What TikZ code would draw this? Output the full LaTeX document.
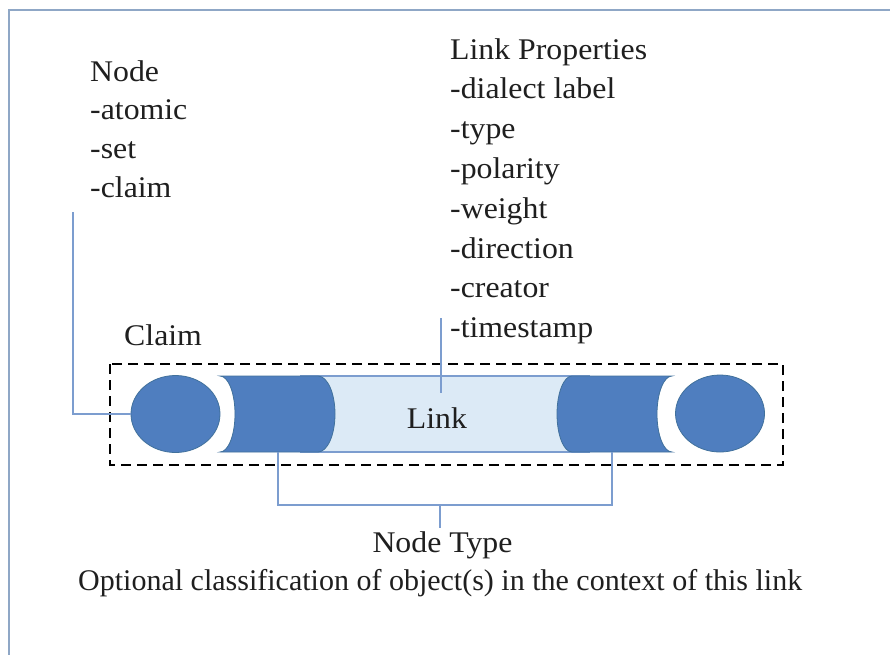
\documentclass[tikz,border=0pt]{standalone}
\usepackage{fontspec}
\usepackage{graphicx}
\setmainfont{Liberation Serif}
\usetikzlibrary{shapes.geometric}
\definecolor{darkb}{HTML}{4F7EBF}
\definecolor{darkedge}{HTML}{41719C}
\definecolor{lightb}{HTML}{DCEAF6}
\definecolor{conn}{HTML}{7C9DCF}
\definecolor{frame}{HTML}{8FA7C6}
\newcommand\widetxt[1]{\scalebox{1.06}[1]{#1}}
\begin{document}
\begin{tikzpicture}[x=1pt,y=-1pt,
  txt/.style={font=\fontsize{30}{36}\selectfont, inner sep=0pt, text=black!88},
  connector/.style={draw=conn, line width=1.3pt},
  blob/.style={ellipse, fill=darkb, draw=darkedge, line width=0.8pt, minimum width=89pt, minimum height=77pt, inner sep=0pt},
  tubedark/.style={fill=darkb, draw=darkedge, line width=0.8pt},
  tubelight/.style={fill=lightb},
  boxdash/.style={draw=black, line width=2.8pt, dash pattern=on 10pt off 6pt}]
\useasboundingbox (0,0) rectangle (890,654);
\clip (0,0) rectangle (890,654);
\fill[white] (0,0) rectangle (890,654);
% outer frame
\draw[frame, line width=1.6pt] (9,720) -- (9,10) -- (960,10);

% dashed grouping box
\draw[boxdash] (110,364) rectangle (783,465);

% tube: light middle
\fill[tubelight] (300,376) rectangle (590,452);
\draw[conn, line width=1.2pt] (300,376) -- (590,376);
\draw[conn, line width=1.2pt] (300,452) -- (590,452);
% left dark end
\draw[tubedark] (220,376) -- (318,376)
   arc[start angle=90, end angle=-90, x radius=17, y radius=-38] -- (220,452)
   arc[start angle=-90, end angle=90, x radius=15, y radius=-38] -- cycle;
% right dark end
\draw[tubedark] (672,376) -- (572,376)
   arc[start angle=90, end angle=270, x radius=15, y radius=-38] -- (672,452)
   arc[start angle=270, end angle=90, x radius=15, y radius=-38] -- cycle;

% node blobs
\node[blob] (cl) at (175.5,414) {};
\node[blob] (cr) at (720,413.5) {};

% texts
\node[txt, anchor=base west] (nd0) at (90,81) {\widetxt{Node}};
\node[txt, anchor=base west] (nd1) at (90,119.7) {\widetxt{-atomic}};
\node[txt, anchor=base west] (nd2) at (90,158.4) {\widetxt{-set}};
\node[txt, anchor=base west] (nd3) at (90,197.1) {\widetxt{-claim}};

\node[txt, anchor=base west] (lp0) at (450,59) {\widetxt{Link Properties}};
\node[txt, anchor=base west] (lp1) at (450,98.8) {\widetxt{-dialect label}};
\node[txt, anchor=base west] (lp2) at (450,138.6) {\widetxt{-type}};
\node[txt, anchor=base west] (lp3) at (450,178.4) {\widetxt{-polarity}};
\node[txt, anchor=base west] (lp4) at (450,218.2) {\widetxt{-weight}};
\node[txt, anchor=base west] (lp5) at (450,258) {\widetxt{-direction}};
\node[txt, anchor=base west] (lp6) at (450,297.8) {\widetxt{-creator}};
\node[txt, anchor=base west] (lp7) at (450,337.6) {\widetxt{-timestamp}};

\node[txt, anchor=base west] (claim) at (124,345) {\widetxt{Claim}};
\node[txt, anchor=base] (link) at (437,428) {\widetxt{Link}};
\node[txt, anchor=base] (ntype) at (442.5,552) {\widetxt{Node Type}};
\node[txt, anchor=base west] (opt) at (78,590) {Optional classification of object(s) in the context of this link};

% connectors
\coordinate (ndtip) at (73,212);
\draw[connector] (ndtip) |- (cl.west);
\coordinate (lptip) at (441,318);
\coordinate (lpend) at (441,393);
\draw[connector] (lptip) -- (lpend);
\coordinate (bl) at (278,452);
\coordinate (br) at (612,452);
\coordinate (bm) at (440,505);
\coordinate (ntip) at (440,528);
\draw[connector] (bl) -- (278,505) -- (612,505) -- (br);
\draw[connector] (bm) -- (ntip);
\end{tikzpicture}
\end{document}
